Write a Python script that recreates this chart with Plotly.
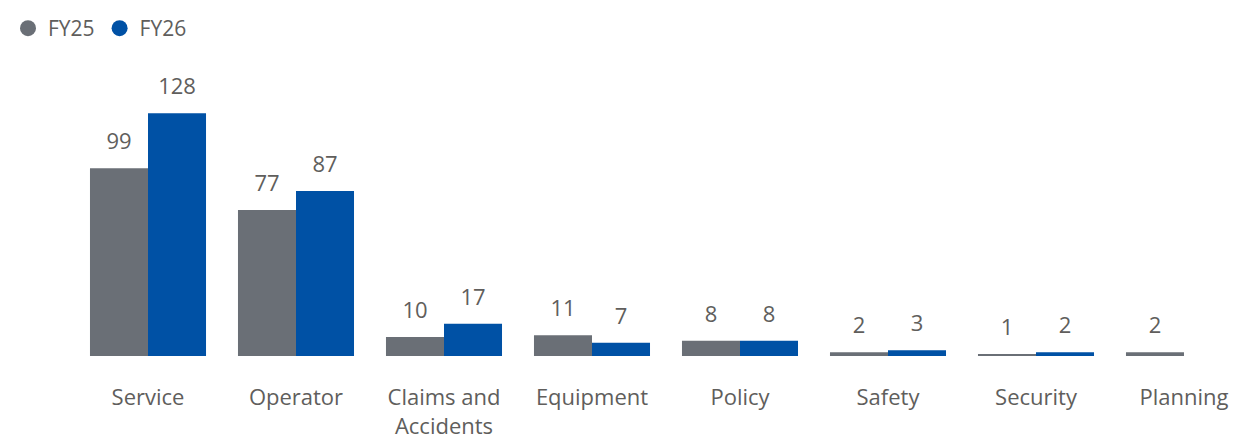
import plotly.graph_objects as go

# Data
categories = ["Service", "Operator", "Claims and<br>Accidents", "Equipment",
              "Policy", "Safety", "Security", "Planning"]
series_names = ["FY25", "FY26"]
fy25 = [99, 77, 10, 11, 8, 2, 1, 2]
fy26 = [128, 87, 17, 7, 8, 3, 2, None]

colors = ["#6a6f76", "#0051a5"]
text_color = "#605e5c"
font_family = "Open Sans, sans-serif"

fig = go.Figure()
for name, vals, col in zip(series_names, [fy25, fy26], colors):
    # bars
    fig.add_trace(go.Bar(
        x=categories, y=vals, name=name,
        marker=dict(color=col, line=dict(width=0)),
        offsetgroup=name, showlegend=False,
        hovertemplate="%{x}<br>" + name + ": %{y}<extra></extra>",
    ))
    # value labels (invisible markers so the text sits a bit above the bar)
    fig.add_trace(go.Scatter(
        x=categories, y=vals, name=name,
        mode="markers+text",
        text=[str(v) if v is not None else "" for v in vals],
        textposition="top center",
        textfont=dict(size=22, color=text_color),
        marker=dict(size=20, opacity=0, color=col),
        offsetgroup=name, showlegend=False, hoverinfo="skip",
        cliponaxis=False,
    ))
    # legend entry with a round symbol
    fig.add_trace(go.Scatter(
        x=[None], y=[None], name=name, mode="markers",
        marker=dict(symbol="circle", size=16, color=col),
        showlegend=True,
    ))

fig.update_layout(
    width=1242, height=440,
    barmode="group",
    scattermode="group",
    bargap=0.216,
    bargroupgap=0,
    scattergap=0.216,
    paper_bgcolor="white",
    plot_bgcolor="white",
    font=dict(family=font_family, size=22, color=text_color),
    margin=dict(l=66, r=0, t=52, b=92),
    legend=dict(
        orientation="h", xref="container", x=0, xanchor="left",
        yref="container", y=1, yanchor="top",
        font=dict(size=21, color=text_color),
        itemwidth=30, tracegroupgap=0,
    ),
)
fig.update_xaxes(
    range=[-0.5, 7.446], showgrid=False, zeroline=False, showline=False,
    ticks="", ticklabelstandoff=26, tickfont=dict(size=22, color=text_color),
)
fig.update_yaxes(
    range=[0, 156], visible=False, showgrid=False, zeroline=False,
)

fig.write_html("out.html")
